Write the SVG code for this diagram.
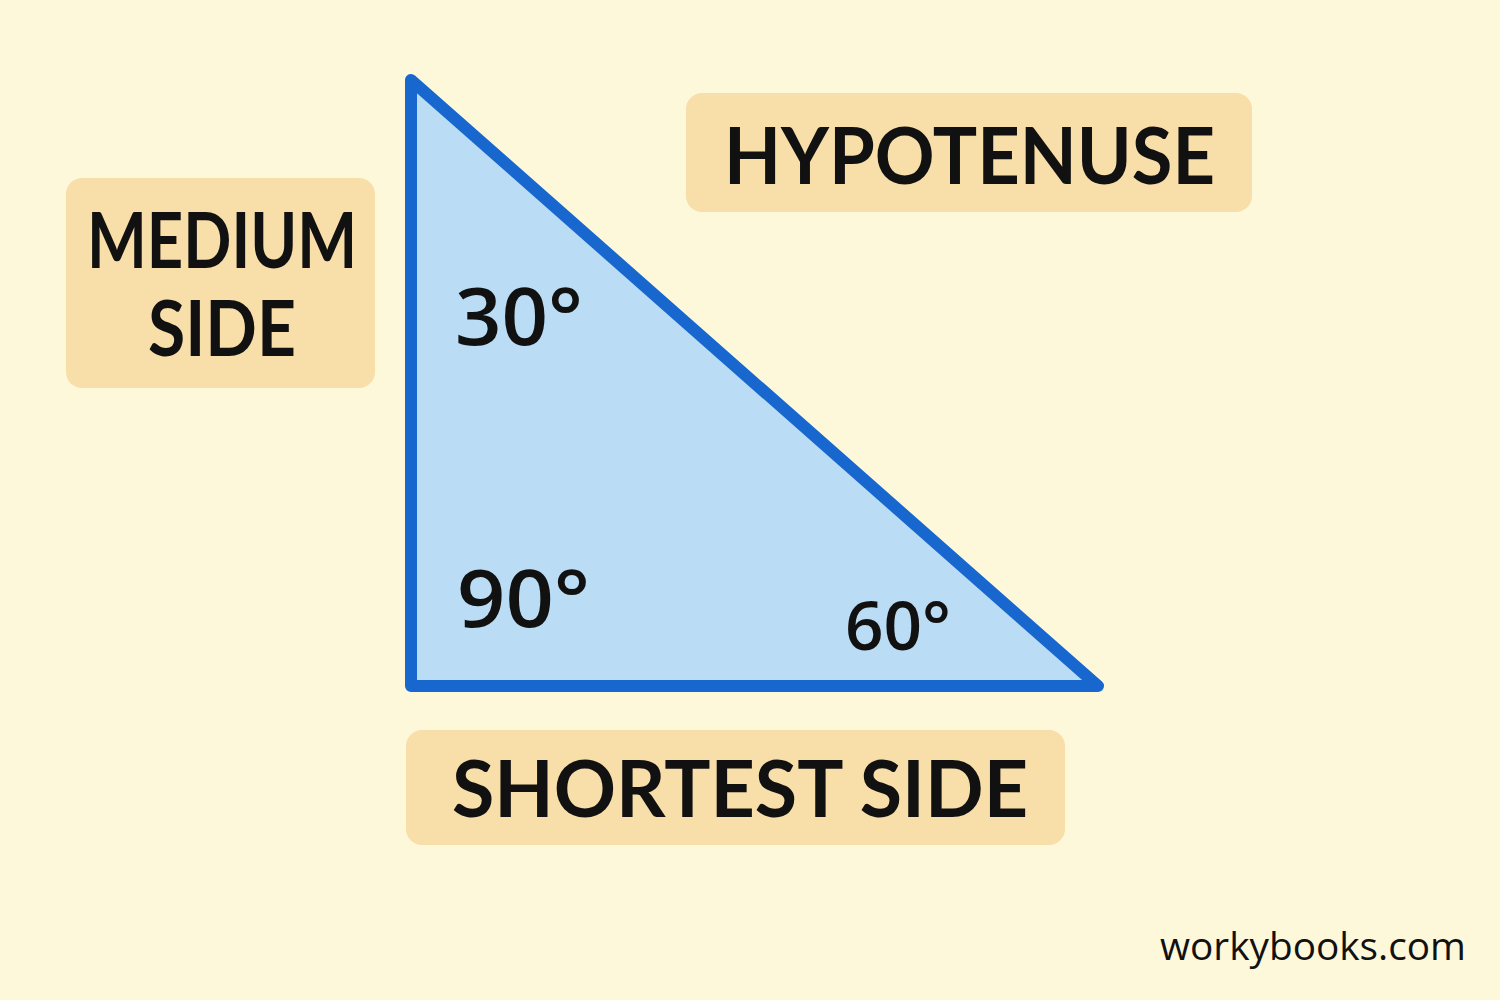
<svg xmlns="http://www.w3.org/2000/svg" width="1500" height="1000" viewBox="0 0 1500 1000">
<style>
.box{fill:#F8DEA8}
.lbl{font-family:Lato,"Open Sans","Liberation Sans",sans-serif;font-weight:700;fill:#111111}
.ang{font-family:"Open Sans",Lato,"Liberation Sans",sans-serif;font-weight:600;fill:#111111}
</style>
<rect x="0" y="0" width="1500" height="1000" fill="#FEF8DA"/>
<g id="triangle">
<polygon points="411,80 411,686 1098,686" fill="#BADCF4" stroke="#1867CE" stroke-width="12" stroke-linejoin="round"/>
</g>
<g id="angle-30"><text class="ang" x="455" y="345" font-size="80" textLength="128" lengthAdjust="spacingAndGlyphs">30°</text></g>
<g id="angle-90"><text class="ang" x="457" y="627" font-size="80" textLength="133" lengthAdjust="spacingAndGlyphs">90°</text></g>
<g id="angle-60"><text class="ang" x="845" y="650" font-size="67" textLength="106" lengthAdjust="spacingAndGlyphs">60°</text></g>
<g id="medium-side">
<rect class="box" x="66" y="178" width="309" height="210" rx="16"/>
<text class="lbl" x="222" y="268" font-size="76" text-anchor="middle" textLength="270" lengthAdjust="spacingAndGlyphs">MEDIUM</text>
<text class="lbl" x="222" y="356" font-size="76" text-anchor="middle" textLength="148" lengthAdjust="spacingAndGlyphs">SIDE</text>
</g>
<g id="hypotenuse">
<rect class="box" x="686" y="93" width="566" height="119" rx="16"/>
<text class="lbl" x="724" y="184" font-size="79" textLength="491" lengthAdjust="spacingAndGlyphs">HYPOTENUSE</text>
</g>
<g id="shortest-side">
<rect class="box" x="406" y="730" width="659" height="115" rx="16"/>
<text class="lbl" x="452" y="817" font-size="79" textLength="576" lengthAdjust="spacingAndGlyphs">SHORTEST SIDE</text>
</g>
<g id="connectors"></g>
<text x="1160" y="960" font-family="'Open Sans','Liberation Sans',sans-serif" font-weight="500" font-size="38" fill="#111111" textLength="306" lengthAdjust="spacingAndGlyphs">workybooks.com</text>
</svg>
